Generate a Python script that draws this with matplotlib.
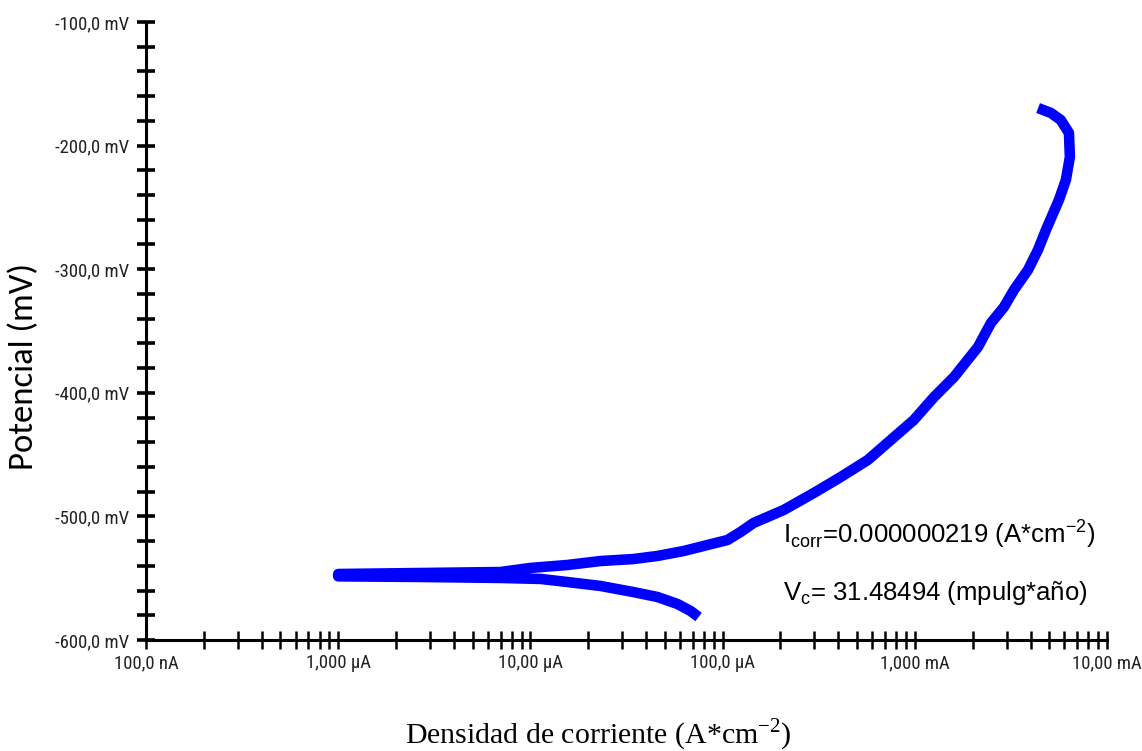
import matplotlib
matplotlib.use('Agg')
import matplotlib.pyplot as plt
from matplotlib import font_manager
from matplotlib.ticker import FixedLocator, FixedFormatter, NullFormatter

# polarization curve (current in A/cm2, potential in mV)
# starts at the cathodic end (bottom), goes left to the minimum, then up the anodic side
current = [7.50e-5, 6.81e-5, 5.83e-5, 4.58e-5, 3.43e-5, 2.32e-5, 1.56e-5, 1.13e-5,
           6.98e-6, 2.67e-6, 1.00e-6,
           1.00e-6, 2.67e-6, 6.98e-6, 1.00e-5, 1.56e-5, 2.32e-5, 3.43e-5, 4.58e-5,
           6.27e-5, 8.36e-5, 1.06e-4, 1.24e-4, 1.45e-4, 2.08e-4, 2.98e-4, 4.12e-4,
           5.69e-4, 7.50e-4, 9.88e-4, 1.26e-3, 1.60e-3, 2.13e-3, 2.49e-3, 2.91e-3,
           3.28e-3, 3.88e-3, 4.37e-3, 4.81e-3, 5.62e-3, 6.11e-3, 6.41e-3, 6.34e-3,
           5.75e-3, 5.11e-3, 4.38e-3]
potential = [-581.4, -576.5, -570.9, -565.2, -561.2, -556.3, -553.1, -550.6,
             -549.8, -549.0, -548.5,
             -546.6, -545.8, -545.0, -541.7, -539.3, -536.1, -534.5, -532.0,
             -528.0, -523.1, -519.1, -512.6, -505.3, -494.8, -481.1, -468.1,
             -454.4, -438.2, -422.0, -403.4, -387.2, -363.0, -343.5, -330.6,
             -316.8, -300.6, -284.5, -268.3, -244.0, -227.8, -209.2, -189.8,
             -179.3, -173.6, -169.6]

x_ticks = [1e-7, 1e-6, 1e-5, 1e-4, 1e-3, 1e-2]
x_labels = ['100,0 nA', '1,000 \u00b5A', '10,00 \u00b5A', '100,0 \u00b5A', '1,000 mA', '10,00 mA']
y_ticks = [-600, -500, -400, -300, -200, -100]
y_labels = ['-600,0 mV', '-500,0 mV', '-400,0 mV', '-300,0 mV', '-200,0 mV', '-100,0 mV']

i_corr_text = r'I$_{\mathsf{corr}}$=0.000000219 (A*cm$^{\mathsf{-2}}$)'
vc_text = 'V$_{\\mathsf{c}}$= 31.48494 (mpulg*a\u00f1o)'


def pick_font(names, default):
    have = {f.name for f in font_manager.fontManager.ttflist}
    for n in names:
        if n in have:
            return n
    return default


tick_font = pick_font(['Liberation Sans Narrow', 'Roboto Condensed', 'DejaVu Sans Condensed',
                       'Open Sans Condensed'], 'Liberation Sans')
label_font = pick_font(['Carlito', 'Lato', 'Open Sans'], 'DejaVu Sans')

plt.rcParams['mathtext.fontset'] = 'custom'
plt.rcParams['mathtext.rm'] = 'Liberation Serif'
plt.rcParams['mathtext.sf'] = 'Liberation Sans'

fig = plt.figure(figsize=(11.42, 7.51), dpi=100)
ax = fig.add_axes([146 / 1142, 111 / 751, 961 / 1142, 618 / 751])

ax.plot(current, potential, color='#0000ff', lw=7.6, solid_joinstyle='round',
        solid_capstyle='butt')

ax.set_xscale('log')
ax.set_xlim(1e-7, 1e-2)
ax.set_ylim(-600, -100)

for s in ['top', 'right']:
    ax.spines[s].set_visible(False)
for s in ['left', 'bottom']:
    ax.spines[s].set_linewidth(2.2)
    ax.spines[s].set_color('black')

ax.xaxis.set_major_locator(FixedLocator(x_ticks))
ax.xaxis.set_major_formatter(FixedFormatter(x_labels))
minors = [m * 10.0 ** e for e in range(-7, -2) for m in range(2, 10)]
ax.xaxis.set_minor_locator(FixedLocator(minors))
ax.xaxis.set_minor_formatter(NullFormatter())

ax.yaxis.set_major_locator(FixedLocator(y_ticks))
ax.yaxis.set_major_formatter(FixedFormatter(y_labels))
ax.yaxis.set_minor_locator(FixedLocator([v for v in range(-600, -99, 20) if v % 100]))

ax.tick_params(axis='x', which='both', direction='inout', length=12.5, width=1.8,
               color='black', pad=4, labelsize=13.5, labelcolor='#222222')
ax.tick_params(axis='y', which='both', direction='inout', length=12.5, width=2.6,
               color='black', pad=6, labelsize=13.5, labelcolor='#222222')
for lab in ax.get_xticklabels() + ax.get_yticklabels():
    lab.set_family(tick_font)

fig.text(24 / 1142, 1 - 366 / 751, 'Potencial (mV)', rotation=90, ha='center', va='center',
         fontsize=25, family=label_font)
fig.text(598 / 1142, 1 - 744 / 751, r'Densidad de corriente (A*cm$^{-2}$)', ha='center',
         va='baseline', fontsize=21.5, family='Liberation Serif')

fig.text(783 / 1142, 1 - 543 / 751, i_corr_text, ha='left', va='baseline', fontsize=18.5,
         family='Liberation Sans')
fig.text(783 / 1142, 1 - 600 / 751, vc_text, ha='left', va='baseline', fontsize=18.5,
         family='Liberation Sans')

fig.savefig('out.png', dpi=100)
